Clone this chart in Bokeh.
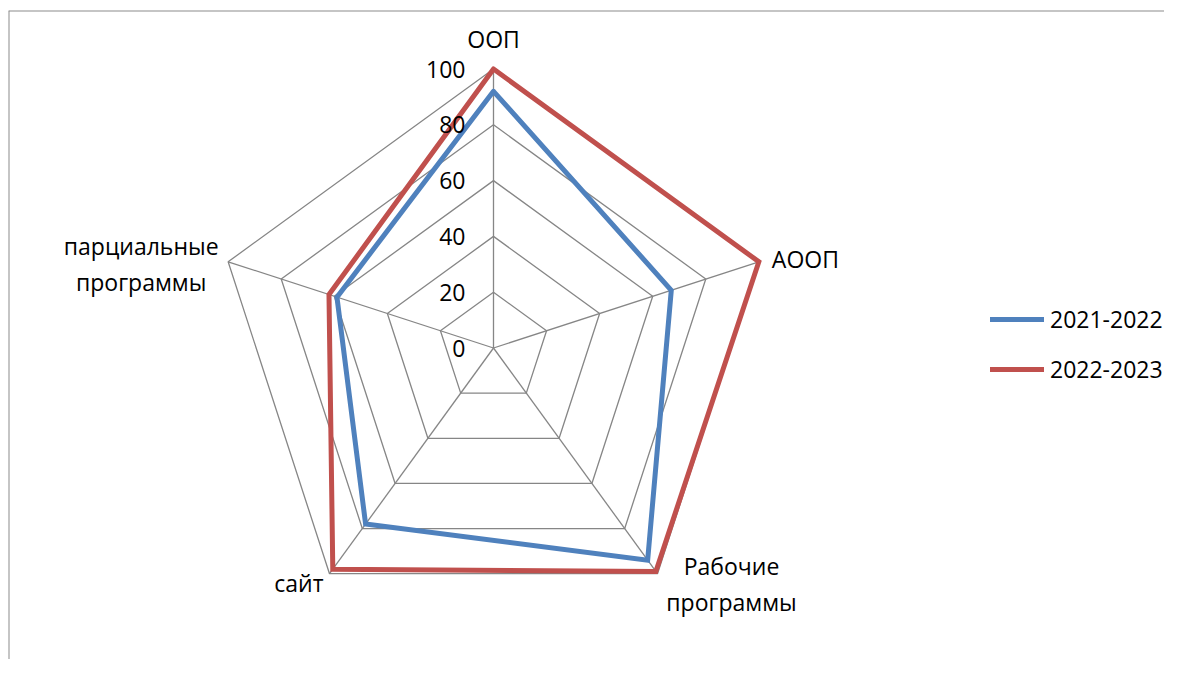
import numpy as np
from bokeh.plotting import figure
from bokeh.models import ColumnDataSource, Legend, LegendItem, Range1d, Span
from bokeh.core.properties import value
from bokeh.embed import file_html
from bokeh.resources import INLINE

# ---- data ----
categories = ["ООП", "АООП", "Рабочие\nпрограммы", "сайт", "парциальные\nпрограммы"]
series_names = ["2021-2022", "2022-2023"]
values_2021 = [92, 67, 94, 78, 59]
values_2022 = [100, 100, 99, 98, 62]
tick_values = [0, 20, 40, 60, 80, 100]

# ---- style ----
FONT = "Open Sans"
FS = "23px"
GRID = "#868686"
COLORS = ["#4F81BD", "#C0504D"]

# label placement (screen-pixel offsets from the 100-vertex of each axis)
label_x_off = [0, 13, 74, -6, -87]
label_y_off = [-30, -3, 10, 9, 2]
label_align = ["center", "left", "center", "right", "center"]

n = len(categories)
ang = np.deg2rad(90 - 360.0 / n * np.arange(n))
vmax = tick_values[-1]


def to_xy(vals):
    v = np.asarray(vals, dtype=float)
    return list(v * np.cos(ang)), list(v * np.sin(ang))


W, H = 1164, 659
BL, BT = 8, 10
FW, FH = W - BL, H - BT
scale = 2.79  # px per unit
cx, cy = 493 - BL, 347.5 - BT  # centre inside the frame (px)
xr = Range1d(-cx / scale, (FW - cx) / scale)
yr = Range1d(-(FH - cy) / scale, cy / scale)
p = figure(width=W, height=H, output_backend="svg", toolbar_location=None,
           x_range=xr, y_range=yr,
           x_axis_location=None, y_axis_location=None,
           min_border_left=BL, min_border_top=BT, min_border_right=0,
           min_border_bottom=0)
p.xgrid.visible = False
p.ygrid.visible = False
p.outline_line_alpha = 0
p.background_fill_color = "white"
p.border_fill_color = "white"

# chart-area border (top and left edges visible, as in the cropped original)
p.add_layout(Span(location=yr.end, dimension="width", line_color="#8c8c8c", line_width=2))
p.add_layout(Span(location=xr.start, dimension="height", line_color="#8c8c8c", line_width=2))

# grid polygons
gx, gy = [], []
for t in tick_values[1:]:
    xs, ys = to_xy([t] * n)
    gx.append(xs + xs[:1])
    gy.append(ys + ys[:1])
p.multi_line(gx, gy, line_color=GRID, line_width=1.3)

# spokes
ex, ey = to_xy([vmax] * n)
p.multi_line([[0, x] for x in ex], [[0, y] for y in ey], line_color=GRID, line_width=1.3)

# series
items = []
for name, vals, col in zip(series_names, [values_2021, values_2022], COLORS):
    xs, ys = to_xy(vals)
    r = p.line(xs + xs[:1], ys + ys[:1], line_color=col, line_width=5,
               line_join="miter", line_cap="round")
    items.append(LegendItem(label=name, renderers=[r]))

# tick labels along top spoke
tsrc = ColumnDataSource(dict(x=[0] * len(tick_values), y=tick_values,
                             t=[str(v) for v in tick_values]))
p.text("x", "y", text="t", source=tsrc, x_offset=-28, text_align="right",
       text_baseline="middle", text_font=value(FONT), text_font_size=FS,
       text_color="black")

# category labels
lx, ly = to_xy([vmax] * n)
csrc = ColumnDataSource(dict(x=lx, y=ly, t=categories, xo=label_x_off,
                             yo=label_y_off, al=label_align))
p.text("x", "y", text="t", source=csrc, x_offset="xo", y_offset="yo",
       text_align="al", text_baseline="middle", text_font=value(FONT),
       text_font_size=FS, text_color="black", text_line_height=1.12)

legend = Legend(items=items, location=(982, 274), orientation="vertical",
                glyph_width=54, glyph_height=30, label_height=30,
                label_standoff=6, spacing=18, padding=0, margin=0,
                label_text_font=FONT, label_text_font_size=FS,
                label_text_color="black", border_line_alpha=0,
                background_fill_alpha=0)
p.add_layout(legend, "center")

open("out.html", "w").write(file_html(p, INLINE))
